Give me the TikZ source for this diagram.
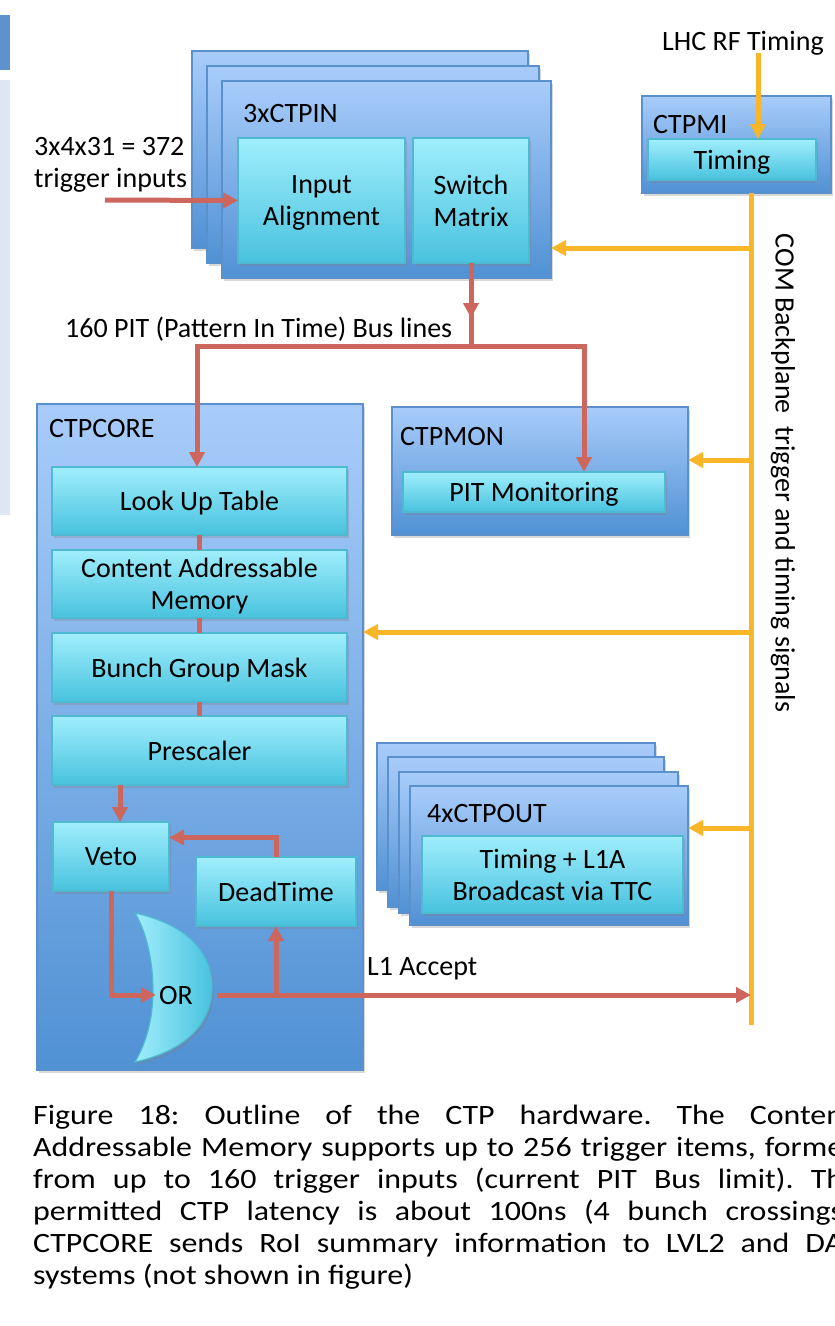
\documentclass[tikz,border=0pt]{standalone}
\usepackage{fontspec}
\setmainfont{Carlito}
\newfontfamily\capfont[FakeStretch=1.14]{Carlito}
\usepackage{tikz}
\usepackage{tkz-euclide}
\usetikzlibrary{arrows.meta,shadows}

\definecolor{boardtop}{RGB}{168,204,250}
\definecolor{boardbot}{RGB}{80,145,212}
\definecolor{boardline}{RGB}{90,145,205}
\definecolor{unittop}{RGB}{160,238,252}
\definecolor{unitbot}{RGB}{72,194,222}
\definecolor{unitline}{RGB}{80,185,210}
\definecolor{sigred}{RGB}{205,102,92}
\definecolor{clkorange}{RGB}{248,182,40}
\definecolor{panelgrey}{RGB}{222,230,243}
\definecolor{barblue}{RGB}{95,145,205}

\begin{document}
\frenchspacing
\begin{tikzpicture}[x=1pt,y=1pt,
  font=\fontsize{28}{32}\selectfont,
  board/.style={draw=boardline, line width=1.5pt, top color=boardtop, bottom color=boardbot,
    anchor=north west, inner sep=0pt, outer sep=0pt,
    drop shadow={shadow xshift=2pt, shadow yshift=-3pt, opacity=0.3}},
  unit/.style={draw=unitline, line width=1.5pt, top color=unittop, bottom color=unitbot,
    anchor=north west, inner sep=0pt, outer sep=0pt, align=center, text depth=0pt,
    drop shadow={shadow xshift=2pt, shadow yshift=-3pt, opacity=0.3}},
  lab/.style={anchor=base west, inner sep=0pt},
  caption/.style={anchor=base west, inner sep=0pt, font=\capfont\fontsize{28}{32}\selectfont},
  sig/.style={draw=sigred, line width=5pt, -{Triangle[length=15pt,width=15pt]}},
  bus/.style={draw=sigred, line width=5pt},
  feed/.style={draw=clkorange, line width=5pt, -{Triangle[length=15pt,width=15pt]}}]
  \useasboundingbox (0,0) rectangle (835,-1326);
  \clip (0,0) rectangle (835,-1326);
  \fill[white] (0,0) rectangle (835,-1326);
  \fill[barblue] (0,-15) rectangle (10,-70);
  \fill[panelgrey] (0,-80) rectangle (10,-515);

  \tkzDefPoints{751/-193/bbtop, 751/-1025/bbend, 758/-53/lhc,
    751/-248/t1, 751/-460/t2, 751/-632/t3, 751/-828/t4,
    197/-346/busL, 584/-346/busR, 105/-200/trig, 217/-995/orout}

  % CTPIN
  \node[board, minimum width=336pt, minimum height=197pt] (ctpinC) at (192,-51) {};
  \node[board, minimum width=332pt, minimum height=197pt] (ctpinB) at (207,-66) {};
  \node[board, minimum width=329pt, minimum height=197pt] (ctpin) at (222,-81) {};
  \node[lab] (ctpinlab) at (243,-122) {3xCTPIN};
  \node[unit, minimum width=167pt, minimum height=125pt] (align) at (238,-138) {Input\\Alignment};
  \node[unit, minimum width=116pt, minimum height=125pt] (switch) at (413,-138) {Switch\\Matrix};
  \node[anchor=west, inner sep=0pt, align=left] (inputs) at (34,-165) {3x4x31 = 372\\trigger inputs};

  % CTPMI
  \node[board, minimum width=189pt, minimum height=97pt] (ctpmi) at (642,-96) {};
  \node[lab] (ctpmilab) at (653,-133) {CTPMI};
  \node[unit, minimum width=168pt, minimum height=41pt] (timing) at (648,-139) {Timing};
  \node[lab] (lhclab) at (662,-50) {LHC RF Timing};

  % CTPMON
  \node[board, minimum width=296pt, minimum height=128pt] (ctpmon) at (392,-407) {};
  \node[lab] (ctpmonlab) at (400,-445) {CTPMON};
  \node[unit, minimum width=262pt, minimum height=40pt] (pitmon) at (403,-472) {PIT Monitoring};

  % CTPCORE
  \node[board, minimum width=326pt, minimum height=666pt] (ctpcore) at (37,-404) {};
  \node[lab] (ctpcorelab) at (49,-437) {CTPCORE};
  \node[unit, minimum width=295pt, minimum height=68pt] (lut) at (52,-467) {Look Up Table};
  \node[unit, minimum width=295pt, minimum height=68pt] (cam) at (52,-550) {Content Addressable\\Memory};
  \node[unit, minimum width=295pt, minimum height=69pt] (bgm) at (52,-633) {Bunch Group Mask};
  \node[unit, minimum width=295pt, minimum height=69pt] (prescaler) at (52,-716) {Prescaler};
  \node[unit, minimum width=116pt, minimum height=69pt] (veto) at (53,-822) {Veto};
  \node[unit, minimum width=160pt, minimum height=69pt] (deadtime) at (196,-857) {DeadTime};
  \path[draw=unitline, line width=1.2pt, left color=unittop, right color=unitbot,
    drop shadow={shadow xshift=2pt, shadow yshift=-3pt, opacity=0.3}]
    (135,-913) .. controls (190,-925) and (212,-955) .. (212,-987)
    .. controls (212,-1020) and (190,-1050) .. (135,-1062)
    .. controls (148,-1040) and (153,-1015) .. (153,-990)
    .. controls (153,-965) and (148,-935) .. (135,-913) -- cycle;
  \node[inner sep=3pt] (orgate) at (176,-995) {OR};

  % CTPOUT
  \node[board, minimum width=278pt, minimum height=147pt] (ctpoutD) at (377,-743) {};
  \node[board, minimum width=276pt, minimum height=150pt] (ctpoutC) at (388,-757) {};
  \node[board, minimum width=279pt, minimum height=141pt] (ctpoutB) at (399,-772) {};
  \node[board, minimum width=278pt, minimum height=139pt] (ctpout) at (410,-786) {};
  \node[lab] (ctpoutlab) at (427,-822) {4xCTPOUT};
  \node[unit, minimum width=261pt, minimum height=77pt] (ttc) at (422,-836) {Timing + L1A\\Broadcast via TTC};

  % backplane
  \draw[draw=clkorange, line width=5pt] (bbtop) -- (bbend);
  \node[rotate=-90, inner sep=0pt] (bblab) at (783,-473) {COM Backplane~ trigger and timing signals};
  \draw[feed] (lhc) -- (lhc |- timing.north);
  \draw[feed] (t1) -- (t1 -| ctpin.east);
  \draw[feed] (t2) -- (t2 -| ctpmon.east);
  \draw[feed] (t3) -- (t3 -| ctpcore.east);
  \draw[feed] (t4) -- (t4 -| ctpout.east);

  % trigger path
  \draw[sig] (trig) -- (align.west);
  \draw[bus] (switch.south) -- (switch.south |- busL);
  \draw[sig] (switch.south) -- ([yshift=-55pt]switch.south);
  \node[lab] (buslab) at (65,-337) {160 PIT (Pattern In Time) Bus lines};
  \draw[sig] (busR) -- (busL) -- (busL |- lut.north);
  \draw[sig] (busL) -- (busR) -- (busR |- pitmon.north);
  \draw[bus] (lut.south) -- (cam.north);
  \draw[bus] (cam.south) -- (bgm.north);
  \draw[bus] (bgm.south) -- (prescaler.north);
  \draw[sig] ([xshift=9pt]veto.north |- prescaler.south) -- ([xshift=9pt]veto.north);
  \draw[sig] (deadtime.north) |- ([yshift=19pt]veto.east);
  \draw[sig] (veto.south) |- (orgate.west);
  \draw[sig] (orout) -- (orout -| bbtop);
  \draw[sig] (deadtime.south |- orout) -- (deadtime.south);
  \node[lab] (l1lab) at (367,-975) {L1 Accept};

  % caption
  \node[caption] (cap1) at (33,-1124) {\makebox[810pt][s]{Figure 18: Outline of the CTP hardware. The Conten}};
  \node[caption] (cap2) at (33,-1156) {\makebox[810pt][s]{Addressable Memory supports up to 256 trigger items, forme}};
  \node[caption] (cap3) at (33,-1188) {\makebox[810pt][s]{from up to 160 trigger inputs (current PIT Bus limit). Th}};
  \node[caption] (cap4) at (33,-1220) {\makebox[810pt][s]{permitted CTP latency is about 100ns (4 bunch crossings}};
  \node[caption] (cap5) at (33,-1252) {\makebox[810pt][s]{CTPCORE sends RoI summary information to LVL2 and DA}};
  \node[caption] (cap6) at (33,-1284) {systems (not shown in figure)};
\end{tikzpicture}
\end{document}
